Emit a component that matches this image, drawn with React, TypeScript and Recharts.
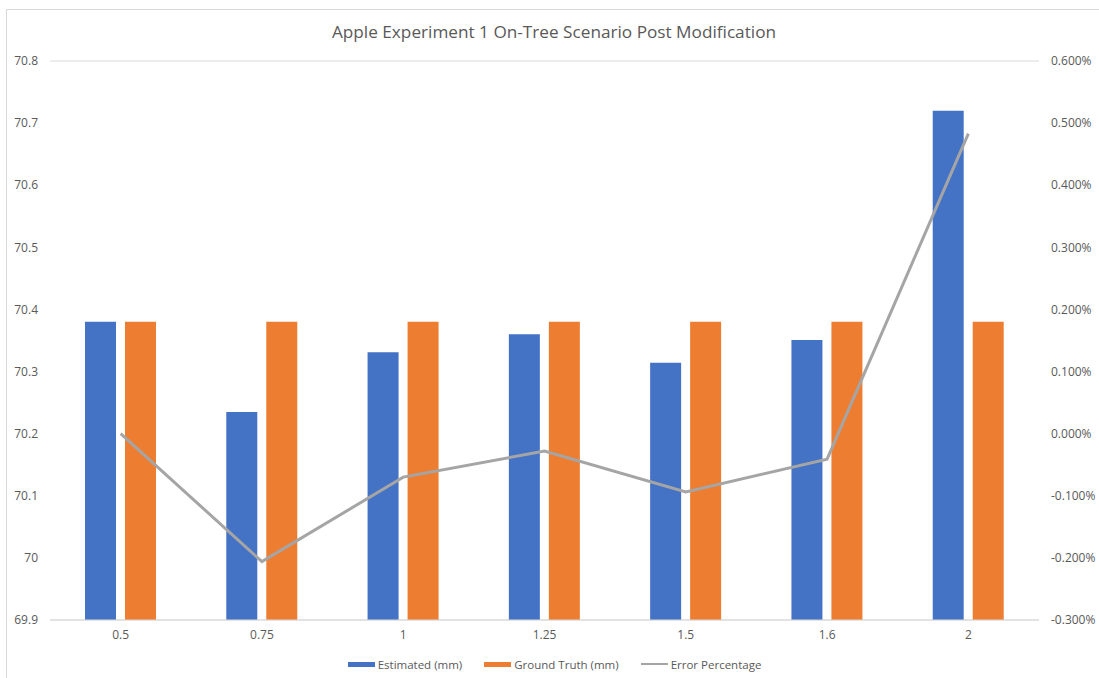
import { ComposedChart, Bar, Line, XAxis, YAxis, CartesianGrid, Legend } from 'recharts'

const categories = ['0.5', '0.75', '1', '1.25', '1.5', '1.6', '2']
const estimated = [70.38, 70.235, 70.331, 70.36, 70.314, 70.351, 70.72]
const groundTruth = [70.38, 70.38, 70.38, 70.38, 70.38, 70.38, 70.38]
const errorPct = [0, -0.206, -0.07, -0.028, -0.094, -0.041, 0.483]

const leftTicks = [69.9, 70, 70.1, 70.2, 70.3, 70.4, 70.5, 70.6, 70.7, 70.8]
const rightTicks = [-0.3, -0.2, -0.1, 0, 0.1, 0.2, 0.3, 0.4, 0.5, 0.6]

const BLUE = '#4472c4'
const ORANGE = '#ed7d31'
const GRAY = '#a5a5a5'
const TEXT = '#595959'
const FONT = '"Open Sans", "Liberation Sans", sans-serif'

const data = categories.map((name, i) => ({
  name,
  estimated: estimated[i],
  truth: groundTruth[i],
  error: errorPct[i],
}))

function ChartLegend() {
  const items = [
    { label: 'Estimated (mm)', color: BLUE, h: 5 },
    { label: 'Ground Truth (mm)', color: ORANGE, h: 5 },
    { label: 'Error Percentage', color: GRAY, h: 2.5 },
  ]
  return (
    <div
      style={{
        height: 28,
        display: 'flex',
        justifyContent: 'center',
        alignItems: 'center',
        gap: 22,
        fontFamily: FONT,
        fontSize: 11.5,
        color: TEXT,
        paddingLeft: 10,
      }}
    >
      {items.map((it) => (
        <div key={it.label} style={{ display: 'flex', alignItems: 'center', gap: 3 }}>
          <span style={{ width: 27, height: it.h, background: it.color, display: 'inline-block' }} />
          <span>{it.label}</span>
        </div>
      ))}
    </div>
  )
}

export default function App() {
  return (
    <div style={{ position: 'absolute', left: 0, top: 0, width: 1099, height: 678, background: '#fff', overflow: 'hidden' }}>
      <div
        style={{
          position: 'absolute',
          left: 6,
          top: 9,
          width: 1200,
          height: 800,
          borderLeft: '1px solid #d9d9d9',
          borderTop: '1px solid #d9d9d9',
        }}
      />
      <div
        style={{
          position: 'absolute',
          left: 0,
          width: 1108,
          top: 20,
          textAlign: 'center',
          fontFamily: FONT,
          fontSize: 17.2,
          color: TEXT,
        }}
      >
        Apple Experiment 1 On-Tree Scenario Post Modification
      </div>
      <ComposedChart
        width={1099}
        height={678}
        data={data}
        margin={{ top: 61, right: 0, left: 0, bottom: 0 }}
        barGap={9}
        style={{ position: 'absolute', left: 0, top: 0 }}
      >
        <CartesianGrid vertical={false} stroke="#d9d9d9" />
        <XAxis
          dataKey="name"
          height={30}
          axisLine={{ stroke: '#d9d9d9' }}
          tickLine={false}
          tickSize={0}
          tickMargin={10}
          tick={{ fill: TEXT, fontSize: 12, fontFamily: FONT }}
        />
        <YAxis
          yAxisId="left"
          width={50}
          domain={[69.9, 70.8]}
          ticks={leftTicks}
          allowDataOverflow
          axisLine={false}
          tickLine={false}
          tickSize={0}
          tickMargin={12}
          tickFormatter={(v: number) => (Math.abs(v - 70) < 1e-9 ? '70' : v.toFixed(1))}
          tick={{ fill: TEXT, fontSize: 12, fontFamily: FONT }}
        />
        <YAxis
          yAxisId="right"
          orientation="right"
          width={60}
          domain={[-0.3, 0.6]}
          ticks={rightTicks}
          allowDataOverflow
          axisLine={false}
          tickLine={false}
          tickSize={0}
          tickMargin={12}
          tickFormatter={(v: number) => v.toFixed(3) + '%'}
          tick={{ fill: TEXT, fontSize: 12, fontFamily: FONT, textAnchor: 'start' }}
        />
        <Legend verticalAlign="bottom" height={28} content={() => <ChartLegend />} />
        <Bar yAxisId="left" dataKey="estimated" fill={BLUE} barSize={31} isAnimationActive={false} />
        <Bar yAxisId="left" dataKey="truth" fill={ORANGE} barSize={31} isAnimationActive={false} />
        <Line
          yAxisId="right"
          dataKey="error"
          stroke={GRAY}
          strokeWidth={3}
          dot={false}
          type="linear"
          isAnimationActive={false}
        />
      </ComposedChart>
    </div>
  )
}
